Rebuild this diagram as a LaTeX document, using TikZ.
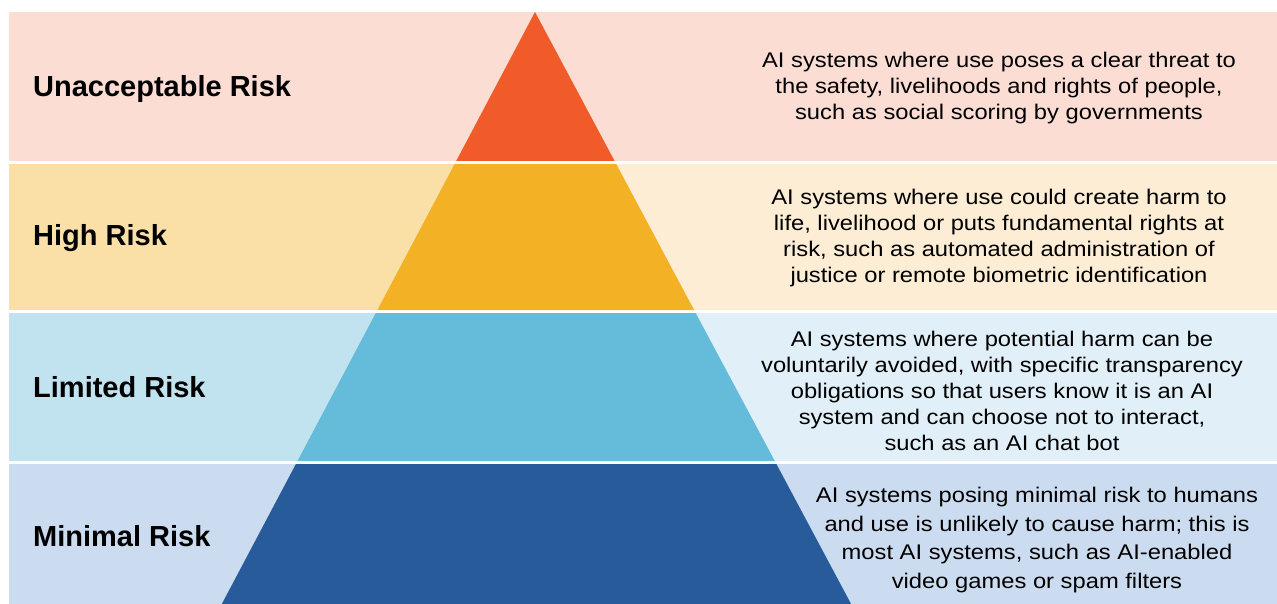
\documentclass[tikz,border=0pt]{standalone}
\usepackage{fontspec}
\setmainfont{Liberation Sans}
\newfontfamily\descfont[FakeStretch=1.12]{Liberation Sans}
\definecolor{redL}{HTML}{FBDDD3}
\definecolor{redR}{HTML}{FBDDD4}
\definecolor{redT}{HTML}{F15A29}
\definecolor{yelL}{HTML}{FADFA6}
\definecolor{yelR}{HTML}{FDEDD4}
\definecolor{yelT}{HTML}{F3B225}
\definecolor{cyaL}{HTML}{C1E3EF}
\definecolor{cyaR}{HTML}{E1F0F8}
\definecolor{cyaT}{HTML}{65BBDA}
\definecolor{bluL}{HTML}{CCDCF0}
\definecolor{bluR}{HTML}{CCDCF0}
\definecolor{bluT}{HTML}{285B9A}
\tikzset{
  lab/.style={anchor=base west, inner sep=0pt, font=\fontsize{29}{34}\selectfont\bfseries},
  desc/.style={anchor=center, inner sep=0pt, align=center, font=\descfont\fontsize{21.2}{26}\selectfont},
}
\begin{document}
\begin{tikzpicture}[x=1pt,y=-1pt]
\useasboundingbox (0,0) rectangle (1277,604);
% band 1
\fill[redL] (9,12) rectangle (614.6,161);
\fill[redR] (614.6,12) rectangle (1277,161);
\fill[redT] (535,12) -- (614.6,161) -- (456.2,161) -- cycle;
% band 2
\fill[yelL] (9,164) rectangle (536,310);
\fill[yelR] (536,164) rectangle (1277,310);
\fill[yelT] (454.6,164) -- (616.2,164) -- (694.1,310) -- (377.4,310) -- cycle;
% band 3
\fill[cyaL] (9,313) rectangle (536,461);
\fill[cyaR] (536,313) rectangle (1277,461);
\fill[cyaT] (375.8,313) -- (695.7,313) -- (774.8,461) -- (297.5,461) -- cycle;
% band 4
\fill[bluL] (9,464) rectangle (536,604);
\fill[bluR] (536,464) rectangle (1277,604);
\fill[bluT] (295.9,464) -- (776.4,464) -- (851.1,604) -- (221.8,604) -- cycle;
% labels
\node[lab] (l1) at (33,97) {Unacceptable Risk};
\node[lab] (l2) at (33,246) {High Risk};
\node[lab] (l3) at (33,397) {Limited Risk};
\node[lab] (l4) at (33,546) {Minimal Risk};
% descriptions
\node[desc] (d1) at (999,88.5) {AI systems where use poses a clear threat to\\the safety, livelihoods and rights of people,\\such as social scoring by governments};
\node[desc] (d2) at (999,238.5) {AI systems where use could create harm to\\life, livelihood or puts fundamental rights at\\risk, such as automated administration of\\justice or remote biometric identification};
\node[desc] (d3) at (1002,391) {AI systems where potential harm can be\\voluntarily avoided, with specific transparency\\obligations so that users know it is an AI\\system and can choose not to interact,\\such as an AI chat bot};
\node[desc, font=\descfont\fontsize{21.2}{28.5}\selectfont] (d4) at (1037,540) {AI systems posing minimal risk to humans\\and use is unlikely to cause harm; this is\\most AI systems, such as AI-enabled\\video games or spam filters};
\end{tikzpicture}
\end{document}
